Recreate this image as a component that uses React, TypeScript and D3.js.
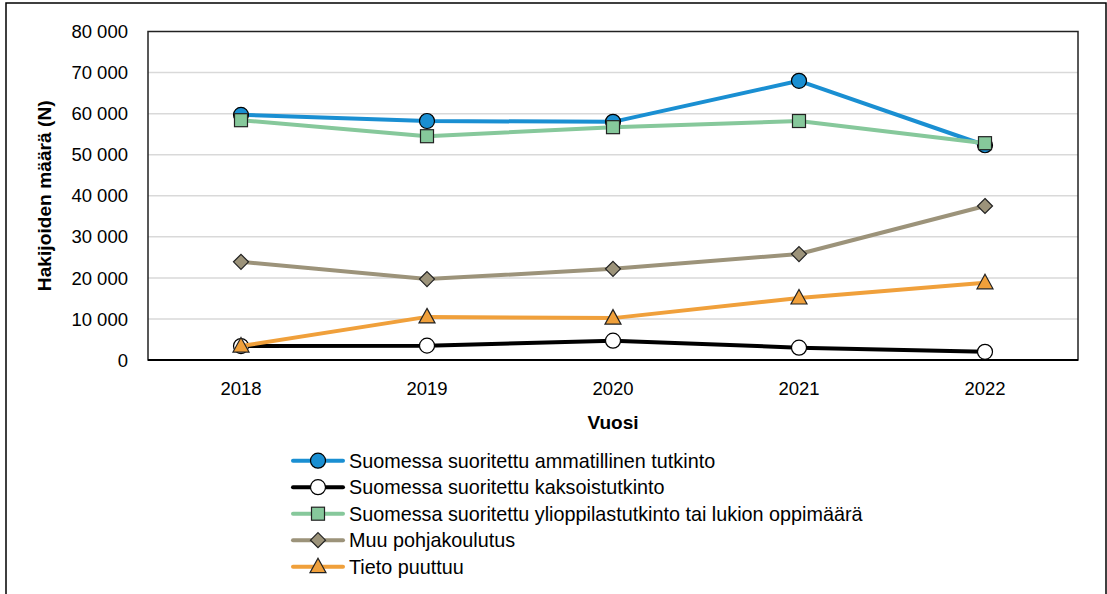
import React, { useEffect, useRef } from "react";
import * as d3 from "d3";

const years = ["2018", "2019", "2020", "2021", "2022"];
const ammatillinen = [59700, 58200, 58000, 68000, 52300];
const kaksois = [3400, 3500, 4700, 3000, 2000];
const ylioppilas = [58400, 54500, 56700, 58200, 52800];
const muu = [23900, 19700, 22200, 25800, 37500];
const puuttuu = [3400, 10500, 10200, 15100, 18800];
const yTicks = [0, 10000, 20000, 30000, 40000, 50000, 60000, 70000, 80000];

const seriesNames = [
  "Suomessa suoritettu ammatillinen tutkinto",
  "Suomessa suoritettu kaksoistutkinto",
  "Suomessa suoritettu ylioppilastutkinto tai lukion oppimäärä",
  "Muu pohjakoulutus",
  "Tieto puuttuu",
];
const seriesColors = ["#1a8fd2", "#000000", "#86c89b", "#9c937a", "#f0a03b"];
const markerFills = ["#1a8fd2", "#ffffff", "#86c89b", "#9c937a", "#f0a03b"];
const markerTypes = ["circle", "circle", "square", "diamond", "triangle"];

const App = () => {
  const svgRef = useRef<SVGSVGElement | null>(null);

  useEffect(() => {
    const width = 1107;
    const height = 594;
    const font = "'Liberation Sans', Arial, sans-serif";
    const svg = d3.select(svgRef.current).attr("width", width).attr("height", height);
    svg.selectAll("*").remove();

    // outer frame
    svg.append("rect")
      .attr("x", 6).attr("y", 3).attr("width", 1100).attr("height", 600)
      .attr("fill", "#fff").attr("stroke", "#000").attr("stroke-width", 1.5);

    const left = 148, right = 1078, top = 31.5, bottom = 360;

    const x = d3.scaleBand().domain(years).range([left, right]);
    const y = d3.scaleLinear().domain([0, 80000]).range([bottom, top]);

    // gridlines
    svg.append("g")
      .selectAll("line")
      .data(yTicks.slice(1, -1))
      .enter()
      .append("line")
      .attr("x1", left).attr("x2", right)
      .attr("y1", d => y(d)).attr("y2", d => y(d))
      .attr("stroke", "#d9d9d9").attr("stroke-width", 1.5);

    // plot border
    svg.append("rect")
      .attr("x", left).attr("y", top).attr("width", right - left).attr("height", bottom - top)
      .attr("fill", "none").attr("stroke", "#222").attr("stroke-width", 1.5);
    svg.append("line")
      .attr("x1", left).attr("x2", right).attr("y1", bottom).attr("y2", bottom)
      .attr("stroke", "#000").attr("stroke-width", 2);

    // y tick labels
    svg.append("g")
      .selectAll("text")
      .data(yTicks)
      .enter()
      .append("text")
      .attr("x", 128)
      .attr("y", d => y(d))
      .attr("dy", "0.36em")
      .attr("text-anchor", "end")
      .attr("font-family", font)
      .attr("font-size", 18.5)
      .attr("fill", "#000")
      .text(d => d3.format(",")(d).replace(/,/g, " "));

    // x tick labels
    svg.append("g")
      .selectAll("text")
      .data(years)
      .enter()
      .append("text")
      .attr("x", d => (x(d) as number) + x.bandwidth() / 2)
      .attr("y", 395)
      .attr("text-anchor", "middle")
      .attr("font-family", font)
      .attr("font-size", 18.5)
      .text(d => d);

    // axis titles
    svg.append("text")
      .attr("x", (left + right) / 2).attr("y", 429)
      .attr("text-anchor", "middle")
      .attr("font-family", font).attr("font-size", 19).attr("font-weight", "bold")
      .text("Vuosi");
    svg.append("text")
      .attr("transform", `translate(51,${(top + bottom) / 2}) rotate(-90)`)
      .attr("text-anchor", "middle")
      .attr("font-family", font).attr("font-size", 19.2).attr("font-weight", "bold")
      .text("Hakijoiden määrä (N)");

    const allValues = [ammatillinen, kaksois, ylioppilas, muu, puuttuu];

    const drawMarker = (g: any, type: string, cx: number, cy: number, fill: string) => {
      if (type === "circle") {
        g.append("circle").attr("cx", cx).attr("cy", cy).attr("r", 7.5)
          .attr("fill", fill).attr("stroke", "#000").attr("stroke-width", 1.2);
      } else if (type === "square") {
        g.append("rect").attr("x", cx - 6.5).attr("y", cy - 6.5).attr("width", 13).attr("height", 13)
          .attr("fill", fill).attr("stroke", "#222").attr("stroke-width", 1.2);
      } else if (type === "diamond") {
        g.append("path")
          .attr("d", `M${cx},${cy - 7.5}L${cx + 7.5},${cy}L${cx},${cy + 7.5}L${cx - 7.5},${cy}Z`)
          .attr("fill", fill).attr("stroke", "#222").attr("stroke-width", 1.2);
      } else {
        g.append("path")
          .attr("d", `M${cx},${cy - 8.5}L${cx + 8},${cy + 6}L${cx - 8},${cy + 6}Z`)
          .attr("fill", fill).attr("stroke", "#222").attr("stroke-width", 1.2);
      }
    };

    const line = d3.line<number>()
      .x((_, i) => (x(years[i]) as number) + x.bandwidth() / 2)
      .y(d => y(d));

    allValues.forEach((vals, si) => {
      const g = svg.append("g");
      g.append("path")
        .attr("d", line(vals) as string)
        .attr("fill", "none")
        .attr("stroke", seriesColors[si])
        .attr("stroke-width", 4)
        .attr("stroke-linejoin", "round");
      vals.forEach((v, i) => {
        drawMarker(g, markerTypes[si], (x(years[i]) as number) + x.bandwidth() / 2, y(v), markerFills[si]);
      });
    });

    // legend
    const legend = svg.append("g");
    seriesNames.forEach((name, i) => {
      const ly = 460.7 + i * 26.5;
      legend.append("line")
        .attr("x1", 293).attr("x2", 343).attr("y1", ly).attr("y2", ly)
        .attr("stroke", seriesColors[i]).attr("stroke-width", 4).attr("stroke-linecap", "round");
      drawMarker(legend, markerTypes[i], 318, ly, markerFills[i]);
      legend.append("text")
        .attr("x", 349).attr("y", ly).attr("dy", "0.36em")
        .attr("font-family", font).attr("font-size", 19.8)
        .text(name);
    });
  }, []);

  return (
    <div style={{ position: "absolute", left: 0, top: 0 }}>
      <svg ref={svgRef} style={{ display: "block" }}></svg>
    </div>
  );
};

export default App;
